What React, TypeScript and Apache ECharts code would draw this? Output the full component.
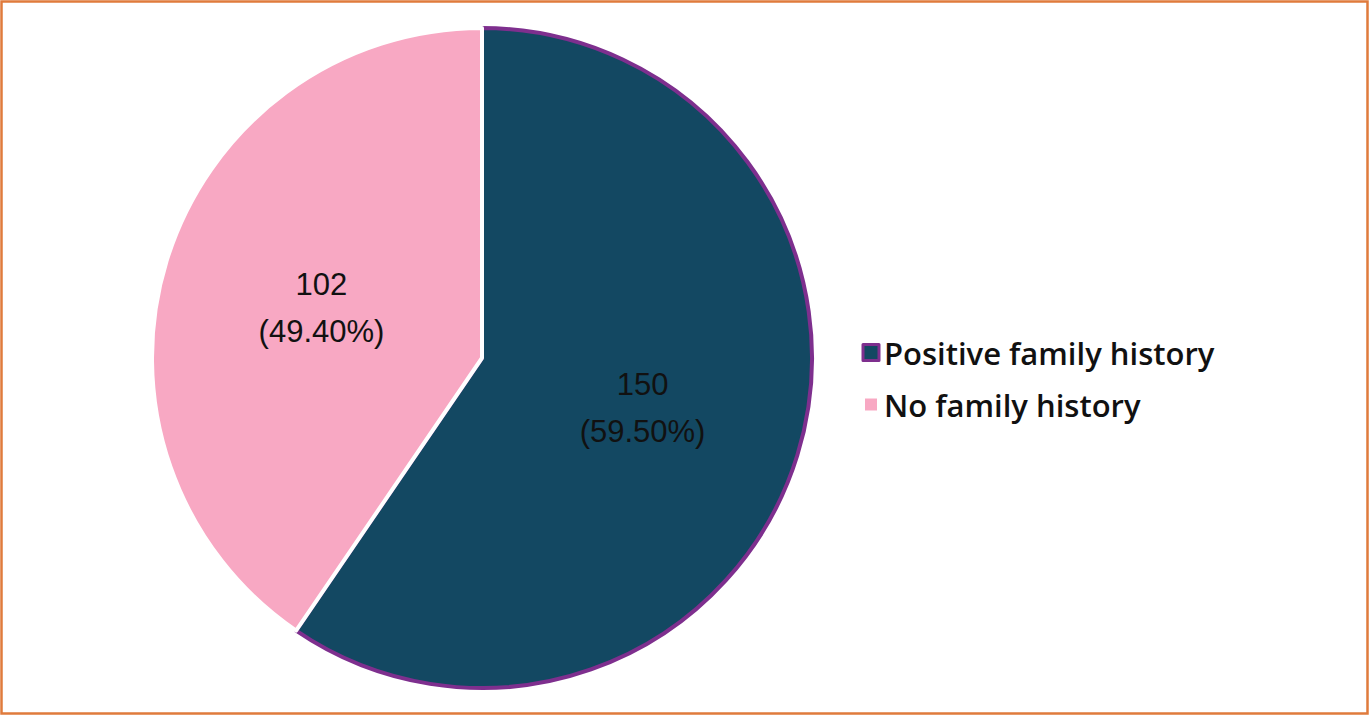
import React, { useEffect, useRef } from "react";
import * as echarts from "echarts";

const categories = ["Positive family history", "No family history"];
const counts = [150, 102];
const percentLabels = ["59.50%", "49.40%"];
const sliceColors = ["#134862", "#F8A8C3"];
const sliceBorders = ["#7E2F8E", "#FFFFFF"];

export default function App() {
  const ref = useRef<HTMLDivElement>(null);
  useEffect(() => {
    document.body.style.margin = "0";
    const chart = echarts.init(ref.current!, undefined, { renderer: "svg" });
    chart.setOption({
      animation: false,
      backgroundColor: "#FFFFFF",
      graphic: [
        {
          type: "rect",
          shape: { x: 1.5, y: 1.5, width: 1366, height: 712 },
          style: { fill: "none", stroke: "#E07B3C", lineWidth: 2.5 },
          silent: true,
        },
      ],
      legend: {
        orient: "vertical",
        left: 856,
        top: 332,
        itemWidth: 16,
        itemHeight: 16,
        itemGap: 21,
        icon: "rect",
        textStyle: {
          fontFamily: "Open Sans",
          fontSize: 31,
          fontWeight: 600,
          color: "#111111",
          lineHeight: 31,
          padding: [0, 0, 0, 0],
        },
        data: categories.map((name, i) => ({
          name,
          itemStyle:
            i === 0
              ? { color: sliceColors[0], borderColor: sliceBorders[0], borderWidth: 3 }
              : { color: sliceColors[1], borderColor: "#FFFFFF", borderWidth: 4 },
        })),
      },
      series: [
        {
          type: "pie",
          center: [482, 358],
          radius: 330,
          startAngle: 90,
          clockwise: true,
          avoidLabelOverlap: false,
          label: {
            show: true,
            position: "inside",
            fontFamily: "Liberation Sans",
            fontSize: 31,
            lineHeight: 47,
            color: "#111111",
            formatter: (p: any) => `${counts[p.dataIndex]}\n(${percentLabels[p.dataIndex]})`,
          },
          labelLine: { show: false },
          emphasis: { disabled: true },
          data: categories.map((name, i) => ({
            name,
            value: counts[i],
            itemStyle: {
              color: sliceColors[i],
              borderColor: sliceBorders[i],
              borderWidth: 4,
            },
          })),
        },
      ],
    });
    return () => chart.dispose();
  }, []);
  return (
    <div
      ref={ref}
      style={{ position: "absolute", left: 0, top: 0, width: 1370, height: 716 }}
    />
  );
}
